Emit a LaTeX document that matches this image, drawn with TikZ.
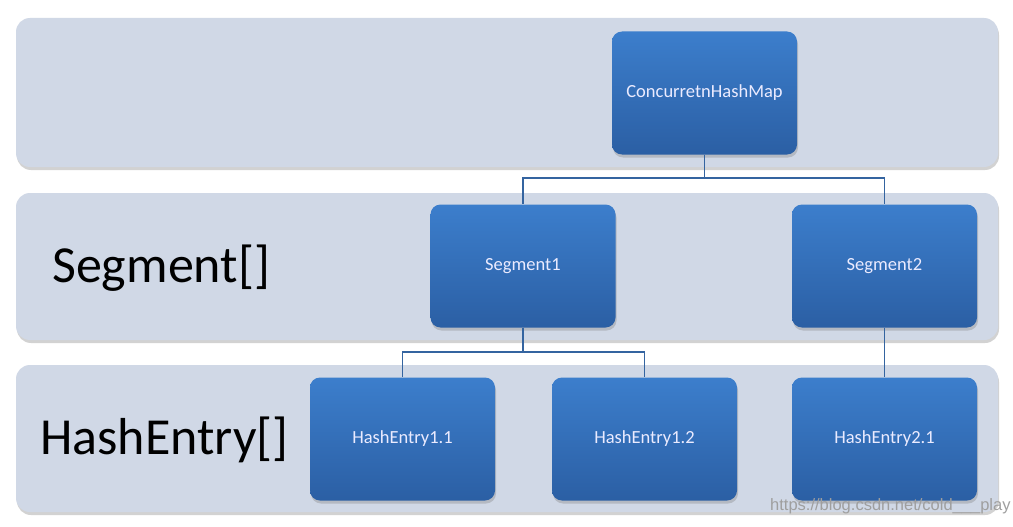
\documentclass[tikz,border=0pt]{standalone}
\usepackage{fontspec}
\setmainfont{Carlito}
\newfontfamily\wmfont{Liberation Sans}
\usetikzlibrary{shadows}
\definecolor{bandfill}{HTML}{D0D8E6}
\definecolor{boxtop}{HTML}{3C7ECC}
\definecolor{boxbot}{HTML}{2B5FA4}
\definecolor{conncol}{HTML}{3464A0}
\tikzset{
  band/.style={rounded corners=14pt, fill=bandfill, draw=none,
    drop shadow={shadow xshift=1pt, shadow yshift=-3pt, opacity=0.35, fill=gray}},
  box/.style={rounded corners=10pt, top color=boxtop, bottom color=boxbot, draw=none,
    minimum width=185pt, minimum height=123pt, inner sep=0pt,
    text=white!92!blue, font=\fontsize{18.5}{22}\selectfont,
    drop shadow={shadow xshift=1pt, shadow yshift=-3pt, opacity=0.35}},
  conn/.style={draw=conncol, line width=1.9pt},
  biglabel/.style={font=\fontsize{52}{60}\selectfont, text=black, anchor=west, inner sep=0pt},
}
\begin{document}
\begin{tikzpicture}[x=1pt,y=-1pt]
\useasboundingbox[fill=white] (0,0) rectangle (1013,527);
% bands
\path[band] (16,18) rectangle (998,167);
\path[band] (16,193) rectangle (998,340);
\path[band] (16,365) rectangle (998,512);
% labels
\node[biglabel] (lseg) at (52,268) {Segment[]};
\node[biglabel] (lhe) at (40,440) {HashEntry[]};
% boxes
\node[box] (chm) at (704.5,93) {ConcurretnHashMap};
\node[box] (s1) at (523,266) {Segment1};
\node[box] (s2) at (884.5,266) {Segment2};
\node[box] (h11) at (402.5,439) {HashEntry1.1};
\node[box] (h12) at (644.5,439) {HashEntry1.2};
\node[box] (h21) at (884.5,439) {HashEntry2.1};
% connectors
\draw[conn] (chm.south) -- ++(0,23) -| (s1.north);
\draw[conn] (chm.south) -- ++(0,23) -| (s2.north);
\draw[conn] (s1.south) -- ++(0,24) -| (h11.north);
\draw[conn] (s1.south) -- ++(0,24) -| (h12.north);
\draw[conn] (s2.south) -- (h21.north);
% watermark
\node[anchor=west, inner sep=0pt, text=gray!75, font=\wmfont\fontsize{16.5}{20}\selectfont] (wm) at (770,506) {https://blog.csdn.net/cold\_\_\_play};
\end{tikzpicture}
\end{document}
